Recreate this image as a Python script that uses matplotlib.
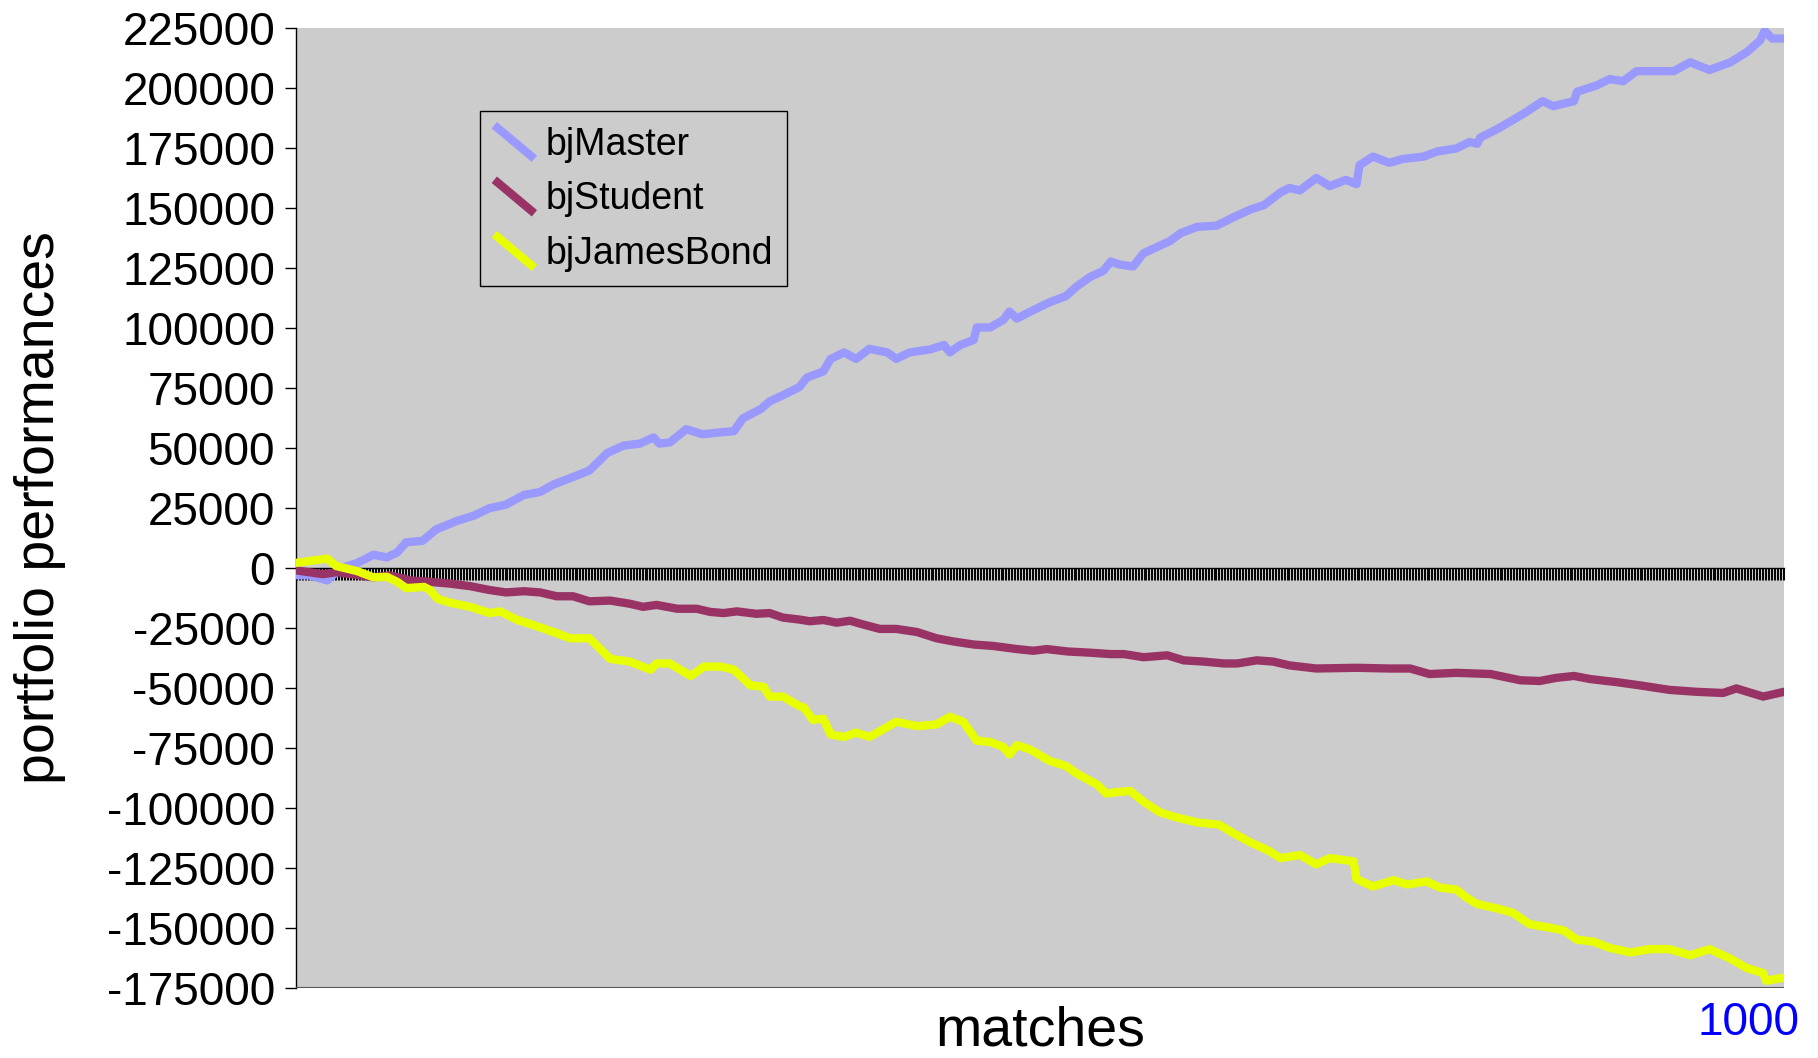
import matplotlib
matplotlib.use("Agg")
import matplotlib.pyplot as plt
import numpy as np
from matplotlib.lines import Line2D
from matplotlib.legend_handler import HandlerBase

plt.rcParams['font.family'] = ['Liberation Sans', 'DejaVu Sans']
plt.rcParams['axes.unicode_minus'] = False

# portfolio value at selected matches
master_x = [1, 10, 22, 31, 42, 53, 62, 69, 75, 86, 95, 109, 120, 131, 142, 154, 165, 174, 187, 198,
            210, 221, 232, 241, 245, 252, 263, 274, 286, 295, 301, 313, 319, 328, 339, 344, 355, 360,
            369, 377, 386, 398, 404, 413, 427, 436, 440, 447, 456, 458, 467, 476, 480, 485, 494, 507,
            518, 525, 534, 543, 548, 554, 563, 570, 579, 588, 595, 606, 619, 630, 642, 651, 662, 668,
            675, 686, 695, 706, 713, 715, 724, 735, 744, 758, 767, 780, 789, 794, 796, 807, 825, 838,
            845, 859, 861, 874, 883, 892, 901, 912, 926, 937, 950, 964, 975, 984, 987, 992, 1000]
master_y = [-3000, -3100, -5200, 0, 2000, 5500, 4400, 6500, 10700, 11300, 16000, 19600, 21700, 24900,
            26400, 30400, 31700, 34800, 37900, 40600, 47900, 51000, 51800, 54400, 51800, 52300, 57800,
            55700, 56500, 57000, 62300, 66200, 69400, 72000, 75400, 79300, 81900, 87100, 89800, 87100,
            91300, 89800, 87100, 89800, 91100, 92900, 89800, 92900, 95000, 100200, 100200, 103400,
            106800, 103900, 106800, 110700, 113300, 117200, 121200, 123800, 127700, 126400, 125600,
            131100, 133700, 136300, 139500, 142100, 142600, 146000, 149400, 151200, 156500, 158300,
            157300, 162500, 159100, 161700, 159900, 167800, 171400, 168800, 170400, 171400, 173500,
            174800, 177500, 176700, 179300, 182700, 189200, 194500, 192400, 194500, 198400, 201000,
            203700, 202800, 207000, 207000, 207000, 210700, 207500, 210700, 214900, 219800, 223800,
            220600, 220600]

student_x = [1, 10, 19, 28, 42, 53, 64, 78, 91, 104, 118, 131, 142, 154, 165, 176, 187, 198, 212, 225,
             234, 243, 257, 270, 279, 288, 297, 310, 319, 328, 339, 346, 355, 364, 373, 382, 393, 404,
             418, 431, 442, 456, 469, 485, 496, 505, 519, 534, 548, 557, 570, 586, 597, 610, 624, 633,
             646, 657, 668, 686, 713, 735, 749, 762, 780, 803, 823, 836, 847, 859, 870, 888, 903, 923,
             941, 959, 968, 986, 1000]
student_y = [-1000, -1800, -2600, -1800, -2900, -3900, -3100, -5200, -5800, -6500, -7600, -9200, -10200,
             -9700, -10200, -11800, -11800, -13900, -13600, -14900, -16200, -15400, -17000, -17000,
             -18300, -18800, -18100, -19100, -18800, -20700, -21500, -22200, -21700, -22800, -22000,
             -23600, -25400, -25400, -26700, -29300, -30600, -31900, -32500, -33800, -34500, -33800,
             -34800, -35300, -35900, -35900, -37200, -36400, -38500, -39000, -39800, -39800, -38500,
             -39000, -40600, -41900, -41600, -41900, -41900, -44200, -43700, -44200, -46800, -47100,
             -45800, -45000, -46300, -47600, -48900, -50800, -51600, -52100, -50200, -53600, -51600]

bond_x = [1, 10, 22, 28, 42, 53, 62, 69, 75, 87, 91, 96, 104, 118, 131, 138, 149, 158, 174, 185, 198,
          212, 225, 239, 243, 252, 266, 275, 286, 295, 306, 315, 319, 328, 339, 342, 348, 355, 360, 369,
          377, 386, 395, 404, 418, 431, 440, 449, 458, 467, 476, 480, 485, 494, 507, 518, 525, 539, 545,
          552, 561, 570, 581, 592, 606, 621, 630, 642, 653, 662, 675, 686, 695, 711, 713, 724, 738, 747,
          760, 769, 780, 787, 794, 807, 818, 829, 841, 852, 861, 872, 883, 897, 910, 923, 937, 950, 964,
          975, 986, 988, 1000]
bond_y = [2100, 2900, 3900, 800, -1300, -3900, -3700, -5800, -8400, -7900, -9200, -12800, -14400,
          -16200, -18800, -18100, -21500, -23300, -26700, -29300, -29300, -37900, -39000, -42400,
          -39800, -39800, -45000, -41100, -41100, -42400, -48900, -49500, -53600, -53600, -57600,
          -58100, -63300, -62800, -69400, -70400, -68600, -70400, -67300, -64100, -65900, -65200,
          -62000, -64100, -72000, -72500, -74600, -77700, -73800, -75700, -80400, -82500, -85600,
          -90300, -94000, -93400, -92900, -97400, -101800, -103900, -106000, -107000, -110400,
          -114400, -117500, -120900, -119600, -123500, -120900, -122200, -129600, -132700, -130100,
          -131900, -130600, -133200, -134000, -137400, -140000, -141800, -143700, -148400, -149700,
          -151000, -154900, -155700, -158300, -160200, -158800, -158800, -161400, -158800, -162800,
          -166700, -168800, -172000, -170700]

n_matches = 1000
y_ticks = list(range(-175000, 225001, 25000))
series_names = ['bjMaster', 'bjStudent', 'bjJamesBond']
series_colors = ['#9999FF', '#993366', '#E8FF00']


class DiagonalHandler(HandlerBase):
    # legend key drawn as a diagonal stroke, like the old Excel chart
    def create_artists(self, legend, orig_handle, xdescent, ydescent,
                       width, height, fontsize, trans):
        line = Line2D([-xdescent, -xdescent + width], [height - ydescent, -ydescent],
                      color=orig_handle.get_color(), lw=orig_handle.get_linewidth(),
                      solid_capstyle='butt')
        line.set_transform(trans)
        return [line]


fig = plt.figure(figsize=(18.18, 10.58), dpi=100)
ax = fig.add_axes([0.1628, 0.0662, 0.8185, 0.9074])
ax.set_facecolor('#CCCCCC')

for xs, ys, name, col in zip([master_x, student_x, bond_x], [master_y, student_y, bond_y],
                             series_names, series_colors):
    ax.plot(xs, ys, color=col, lw=6, label=name, solid_joinstyle='round',
            solid_capstyle='round', zorder=3)

ax.set_xlim(1, n_matches)
ax.set_ylim(y_ticks[0], y_ticks[-1])

# category axis crosses at zero with a tick for every match
ax.spines['bottom'].set_position(('data', 0))
ax.spines['bottom'].set_linewidth(1.0)
ax.spines['top'].set_visible(False)
ax.spines['right'].set_visible(False)
ax.spines['left'].set_linewidth(1.0)
ax.axhline(y_ticks[0], color='#555555', lw=1.5, zorder=2.6)

ax.set_xticks(np.arange(1, n_matches + 1))
ax.set_xticklabels([])
ax.tick_params(axis='x', direction='out', length=8.5, width=0.7, color='black')

ax.set_yticks(y_ticks)
ax.set_yticklabels([str(v) for v in y_ticks])
ax.tick_params(axis='y', direction='out', length=8, width=1.0, pad=7, labelsize=33)

ax.annotate(str(n_matches), xy=(n_matches, 0), xycoords=('data', 'axes fraction'),
            xytext=(11, -25), textcoords='offset points', ha='right', va='center',
            color='blue', fontsize=33)

fig.text(40 / 1818, 0.52, 'portfolio performances', rotation=90, ha='center', va='center',
         fontsize=40)
fig.text(0.572, 0.025, 'matches', ha='center', va='center', fontsize=40)

leg = ax.legend(loc='upper left', bbox_to_anchor=(0.1237, 0.9135), fontsize=27,
                handler_map={Line2D: DiagonalHandler()}, handlelength=1.07, handleheight=1.0,
                handletextpad=0.3, labelspacing=0.45, borderpad=0.38, borderaxespad=0,
                fancybox=False, framealpha=1, facecolor='#CCCCCC', edgecolor='black')
leg.get_frame().set_linewidth(1.0)

fig.savefig('out.png', dpi=100)
